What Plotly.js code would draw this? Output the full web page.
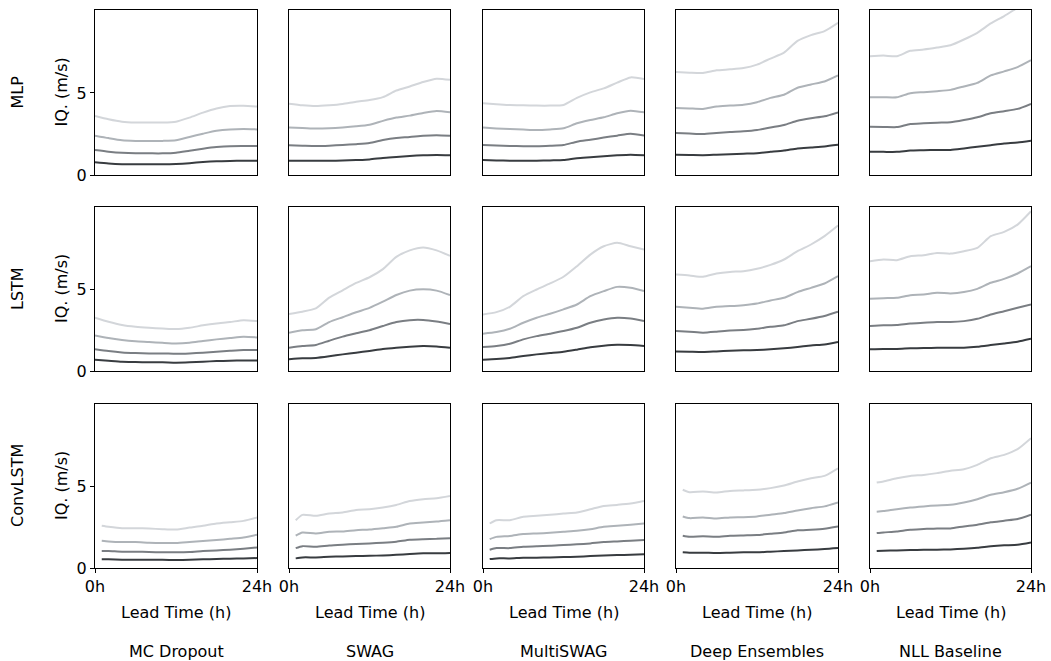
<!DOCTYPE html>
<html>
<head>
<meta charset="utf-8">
<script src="https://cdn.plot.ly/plotly-3.0.1.min.js"></script>
<style>
html,body{margin:0;padding:0;background:#fff;}
#chart{width:1051px;height:661px;}
</style>
</head>
<body>
<div id="chart"></div>
<script>
// ---- data ----
const models = ["MLP", "LSTM", "ConvLSTM"];
const methods = ["MC Dropout", "SWAG", "MultiSWAG", "Deep Ensembles", "NLL Baseline"];
const hoursA = [0, 2, 4, 6, 8, 10, 12, 14, 16, 18, 20, 22, 24];
const hoursConv = [1, 2, 4, 6, 8, 10, 12, 14, 16, 18, 20, 22, 24];
const xTickVals = [0, 24];
const xTickText = ["0h", "24h"];
const yTickVals = [0, 5];
const yTickText = ["0", "5"];
const yTitle = "IQ. (m/s)";
const xTitle = "Lead Time (h)";

// each: [darkest, mid-dark, mid-light, lightest] interval widths
const MLP_MCDropout = [
  [0.77, 0.7, 0.66, 0.65, 0.65, 0.65, 0.67, 0.72, 0.79, 0.84, 0.86, 0.87, 0.87],
  [1.52, 1.42, 1.35, 1.32, 1.32, 1.32, 1.36, 1.48, 1.6, 1.7, 1.76, 1.77, 1.77],
  [2.4, 2.25, 2.12, 2.08, 2.07, 2.08, 2.12, 2.32, 2.52, 2.7, 2.78, 2.8, 2.78],
  [3.6, 3.4, 3.25, 3.2, 3.2, 3.2, 3.25, 3.5, 3.8, 4.05, 4.2, 4.22, 4.17]
];
const MLP_SWAG = [
  [0.87, 0.87, 0.87, 0.87, 0.88, 0.91, 0.95, 1.04, 1.1, 1.16, 1.2, 1.22, 1.2],
  [1.81, 1.79, 1.77, 1.79, 1.83, 1.88, 1.95, 2.13, 2.26, 2.32, 2.4, 2.43, 2.4],
  [2.9, 2.87, 2.83, 2.85, 2.9, 2.97, 3.07, 3.3, 3.5, 3.62, 3.78, 3.9, 3.82],
  [4.35, 4.25, 4.2, 4.25, 4.33, 4.47, 4.57, 4.75, 5.15, 5.4, 5.67, 5.87, 5.8]
];
const MLP_MultiSWAG = [
  [0.91, 0.89, 0.87, 0.87, 0.87, 0.89, 0.91, 1.02, 1.08, 1.14, 1.2, 1.24, 1.2],
  [1.83, 1.8, 1.77, 1.76, 1.75, 1.78, 1.83, 2.03, 2.15, 2.28, 2.4, 2.52, 2.4],
  [2.89, 2.84, 2.8, 2.77, 2.74, 2.78, 2.85, 3.15, 3.35, 3.52, 3.76, 3.92, 3.82],
  [4.37, 4.32, 4.27, 4.25, 4.23, 4.23, 4.27, 4.7, 5.04, 5.28, 5.63, 5.95, 5.85]
];
const MLP_DeepEnsembles = [
  [1.23, 1.22, 1.21, 1.24, 1.27, 1.3, 1.33, 1.41, 1.49, 1.62, 1.68, 1.74, 1.84],
  [2.56, 2.53, 2.5, 2.56, 2.62, 2.66, 2.74, 2.9, 3.05, 3.31, 3.46, 3.58, 3.82],
  [4.09, 4.06, 4.03, 4.17, 4.23, 4.29, 4.44, 4.7, 4.89, 5.32, 5.52, 5.7, 6.07],
  [6.28, 6.24, 6.22, 6.38, 6.44, 6.52, 6.73, 7.1, 7.46, 8.18, 8.53, 8.77, 9.28]
];
const MLP_NLL = [
  [1.41, 1.41, 1.41, 1.49, 1.51, 1.53, 1.53, 1.62, 1.72, 1.82, 1.92, 1.98, 2.09],
  [2.94, 2.93, 2.92, 3.11, 3.15, 3.19, 3.21, 3.35, 3.52, 3.76, 3.89, 4.03, 4.34],
  [4.74, 4.74, 4.74, 4.99, 5.05, 5.11, 5.19, 5.4, 5.62, 6.07, 6.32, 6.58, 7.0],
  [7.24, 7.28, 7.24, 7.57, 7.65, 7.77, 7.91, 8.26, 8.67, 9.24, 9.69, 10.2, 10.7]
];

const LSTM_MCDropout = [
  [0.69, 0.63, 0.57, 0.55, 0.53, 0.53, 0.51, 0.53, 0.57, 0.61, 0.63, 0.65, 0.65],
  [1.33, 1.22, 1.14, 1.1, 1.08, 1.08, 1.06, 1.08, 1.12, 1.18, 1.24, 1.29, 1.29],
  [2.18, 2.02, 1.9, 1.82, 1.78, 1.73, 1.69, 1.73, 1.84, 1.94, 2.02, 2.1, 2.06],
  [3.27, 3.02, 2.82, 2.71, 2.65, 2.61, 2.57, 2.65, 2.8, 2.92, 3.0, 3.12, 3.06]
];
const LSTM_SWAG = [
  [0.72, 0.78, 0.8, 0.9, 1.02, 1.12, 1.23, 1.35, 1.43, 1.49, 1.53, 1.5, 1.42],
  [1.43, 1.53, 1.6, 1.86, 2.11, 2.31, 2.5, 2.76, 3.0, 3.12, 3.13, 3.03, 2.88],
  [2.35, 2.5, 2.56, 3.0, 3.3, 3.6, 3.87, 4.25, 4.66, 4.93, 5.01, 4.93, 4.66],
  [3.5, 3.64, 3.84, 4.5, 4.95, 5.4, 5.75, 6.25, 7.0, 7.4, 7.58, 7.4, 7.06]
];
const LSTM_MultiSWAG = [
  [0.69, 0.73, 0.8, 0.92, 1.02, 1.1, 1.18, 1.31, 1.45, 1.55, 1.61, 1.59, 1.53],
  [1.47, 1.53, 1.67, 1.94, 2.14, 2.29, 2.45, 2.65, 2.96, 3.16, 3.27, 3.22, 3.06],
  [2.29, 2.39, 2.59, 2.96, 3.27, 3.51, 3.78, 4.08, 4.59, 4.9, 5.16, 5.1, 4.9],
  [3.47, 3.61, 3.94, 4.59, 5.0, 5.37, 5.78, 6.43, 7.14, 7.65, 7.86, 7.65, 7.45]
];
const LSTM_DeepEnsembles = [
  [1.2, 1.18, 1.16, 1.2, 1.24, 1.27, 1.29, 1.33, 1.39, 1.47, 1.57, 1.63, 1.78],
  [2.45, 2.41, 2.35, 2.41, 2.49, 2.51, 2.59, 2.71, 2.8, 3.06, 3.2, 3.37, 3.63],
  [3.94, 3.88, 3.82, 3.94, 3.98, 4.04, 4.14, 4.33, 4.49, 4.84, 5.1, 5.37, 5.82],
  [5.92, 5.86, 5.78, 5.98, 6.08, 6.12, 6.27, 6.51, 6.84, 7.35, 7.76, 8.27, 8.92]
];
const LSTM_NLL = [
  [1.33, 1.35, 1.35, 1.39, 1.41, 1.43, 1.42, 1.43, 1.49, 1.59, 1.69, 1.8, 1.98],
  [2.76, 2.8, 2.82, 2.92, 2.96, 3.0, 3.0, 3.06, 3.2, 3.47, 3.67, 3.88, 4.08],
  [4.43, 4.47, 4.49, 4.65, 4.69, 4.8, 4.76, 4.84, 5.04, 5.41, 5.65, 5.98, 6.43],
  [6.73, 6.84, 6.8, 7.04, 7.1, 7.24, 7.2, 7.35, 7.55, 8.27, 8.53, 8.98, 9.8]
];

const Conv_MCDropout = [
  [0.53, 0.53, 0.51, 0.51, 0.51, 0.5, 0.49, 0.5, 0.53, 0.55, 0.57, 0.59, 0.61],
  [1.04, 1.04, 1.0, 1.0, 0.98, 0.96, 0.96, 0.98, 1.04, 1.08, 1.12, 1.18, 1.26],
  [1.67, 1.63, 1.59, 1.59, 1.55, 1.53, 1.53, 1.59, 1.65, 1.71, 1.79, 1.87, 2.04],
  [2.59, 2.53, 2.44, 2.44, 2.42, 2.38, 2.36, 2.48, 2.59, 2.73, 2.81, 2.89, 3.1]
];
const Conv_SWAG = [
  [0.59, 0.65, 0.65, 0.69, 0.71, 0.73, 0.75, 0.77, 0.81, 0.86, 0.9, 0.9, 0.92],
  [1.22, 1.34, 1.3, 1.38, 1.43, 1.47, 1.51, 1.55, 1.61, 1.73, 1.77, 1.79, 1.83],
  [1.98, 2.18, 2.12, 2.22, 2.24, 2.32, 2.36, 2.44, 2.53, 2.73, 2.79, 2.85, 2.93],
  [2.93, 3.26, 3.2, 3.34, 3.4, 3.56, 3.6, 3.71, 3.87, 4.11, 4.22, 4.28, 4.42]
];
const Conv_MultiSWAG = [
  [0.55, 0.59, 0.59, 0.63, 0.63, 0.65, 0.67, 0.69, 0.73, 0.77, 0.79, 0.81, 0.84],
  [1.12, 1.22, 1.22, 1.3, 1.34, 1.36, 1.41, 1.45, 1.51, 1.59, 1.63, 1.67, 1.71],
  [1.77, 1.91, 1.96, 2.08, 2.12, 2.16, 2.22, 2.28, 2.38, 2.53, 2.59, 2.65, 2.73],
  [2.73, 2.93, 2.93, 3.14, 3.2, 3.26, 3.34, 3.4, 3.6, 3.81, 3.87, 3.95, 4.11]
];
const Conv_DeepEnsembles = [
  [0.96, 0.94, 0.94, 0.92, 0.94, 0.96, 0.96, 1.0, 1.04, 1.08, 1.12, 1.16, 1.22],
  [1.98, 1.92, 1.94, 1.92, 1.98, 2.0, 2.02, 2.1, 2.18, 2.31, 2.35, 2.41, 2.55],
  [3.16, 3.06, 3.1, 3.04, 3.1, 3.12, 3.16, 3.27, 3.37, 3.53, 3.67, 3.78, 4.02],
  [4.8, 4.65, 4.69, 4.63, 4.73, 4.76, 4.8, 4.9, 5.06, 5.31, 5.51, 5.65, 6.12]
];
const Conv_NLL = [
  [1.04, 1.06, 1.08, 1.1, 1.12, 1.12, 1.14, 1.18, 1.24, 1.33, 1.39, 1.43, 1.57],
  [2.14, 2.18, 2.24, 2.35, 2.39, 2.43, 2.43, 2.55, 2.65, 2.8, 2.9, 3.0, 3.27],
  [3.45, 3.49, 3.61, 3.71, 3.78, 3.84, 3.88, 4.02, 4.22, 4.49, 4.65, 4.86, 5.24],
  [5.24, 5.31, 5.51, 5.65, 5.71, 5.82, 5.96, 6.06, 6.33, 6.73, 6.94, 7.29, 7.96]
];

const grid = [
  [MLP_MCDropout, MLP_SWAG, MLP_MultiSWAG, MLP_DeepEnsembles, MLP_NLL],
  [LSTM_MCDropout, LSTM_SWAG, LSTM_MultiSWAG, LSTM_DeepEnsembles, LSTM_NLL],
  [Conv_MCDropout, Conv_SWAG, Conv_MultiSWAG, Conv_DeepEnsembles, Conv_NLL]
];
const rowHours = [hoursA, hoursA, hoursConv];

// ---- styling / layout ----
const W = 1051, H = 661;
const colPx = [[95, 257], [289, 450], [483, 644], [676, 838], [870, 1031]];
const rowPx = [[10, 175], [207, 371], [404, 568]];
const lineColors = ["#383c40", "#7a7e83", "#aeb3b8", "#d3d6da"];
const FONT = "DejaVu Sans, Verdana, sans-serif";
const FS = 16;

const traces = [];
const layout = {
  width: W, height: H,
  margin: {l: 0, r: 0, t: 0, b: 0},
  paper_bgcolor: "#fff", plot_bgcolor: "#fff",
  showlegend: false,
  font: {family: FONT, size: FS, color: "#000"},
  annotations: []
};

let n = 0;
for (let r = 0; r < 3; r++) {
  for (let c = 0; c < 5; c++) {
    n++;
    const xa = n === 1 ? "x" : "x" + n;
    const ya = n === 1 ? "y" : "y" + n;
    const xk = n === 1 ? "xaxis" : "xaxis" + n;
    const yk = n === 1 ? "yaxis" : "yaxis" + n;
    const series = grid[r][c];
    for (let k = 0; k < series.length; k++) {
      traces.push({
        type: "scatter", mode: "lines",
        x: rowHours[r], y: series[k],
        xaxis: xa, yaxis: ya,
        line: {color: lineColors[k], width: 2, shape: "spline", smoothing: 0.6},
        hoverinfo: "skip"
      });
    }
    const bottomRow = r === 2, firstCol = c === 0;
    layout[xk] = {
      domain: [colPx[c][0] / W, colPx[c][1] / W],
      anchor: ya, range: [0, 24],
      showgrid: false, zeroline: false,
      showline: true, mirror: true, linecolor: "#000", linewidth: 1,
      ticks: bottomRow ? "outside" : "", ticklen: 4, tickwidth: 1, tickcolor: "#000",
      tickmode: "array", tickvals: xTickVals, ticktext: xTickText,
      showticklabels: bottomRow,
      tickfont: {family: FONT, size: FS, color: "#000"},
      fixedrange: true
    };
    layout[yk] = {
      domain: [1 - rowPx[r][1] / H, 1 - rowPx[r][0] / H],
      anchor: xa, range: [0, 10.06],
      showgrid: false, zeroline: false,
      showline: true, mirror: true, linecolor: "#000", linewidth: 1,
      ticks: firstCol ? "outside" : "", ticklen: 4, tickwidth: 1, tickcolor: "#000",
      tickmode: "array", tickvals: yTickVals, ticktext: yTickText,
      showticklabels: firstCol,
      tickfont: {family: FONT, size: FS, color: "#000"},
      fixedrange: true
    };
  }
}

// row labels and y titles
for (let r = 0; r < 3; r++) {
  const cy = 1 - ((rowPx[r][0] + rowPx[r][1]) / 2) / H;
  layout.annotations.push({
    text: models[r], xref: "paper", yref: "paper",
    x: 17 / W, y: cy, xanchor: "center", yanchor: "middle",
    textangle: -90, showarrow: false, font: {family: FONT, size: FS, color: "#000"}
  });
  layout.annotations.push({
    text: yTitle, xref: "paper", yref: "paper",
    x: 61 / W, y: cy, xanchor: "center", yanchor: "middle",
    textangle: -90, showarrow: false, font: {family: FONT, size: FS, color: "#000"}
  });
}
// x titles and method labels
for (let c = 0; c < 5; c++) {
  const cx = ((colPx[c][0] + colPx[c][1]) / 2) / W;
  layout.annotations.push({
    text: xTitle, xref: "paper", yref: "paper",
    x: cx, y: 1 - 612 / H, xanchor: "center", yanchor: "middle",
    showarrow: false, font: {family: FONT, size: FS, color: "#000"}
  });
  layout.annotations.push({
    text: methods[c], xref: "paper", yref: "paper",
    x: cx, y: 1 - 651 / H, xanchor: "center", yanchor: "middle",
    showarrow: false, font: {family: FONT, size: FS, color: "#000"}
  });
}

Plotly.newPlot("chart", traces, layout, {staticPlot: true, displayModeBar: false});
</script>
</body>
</html>
